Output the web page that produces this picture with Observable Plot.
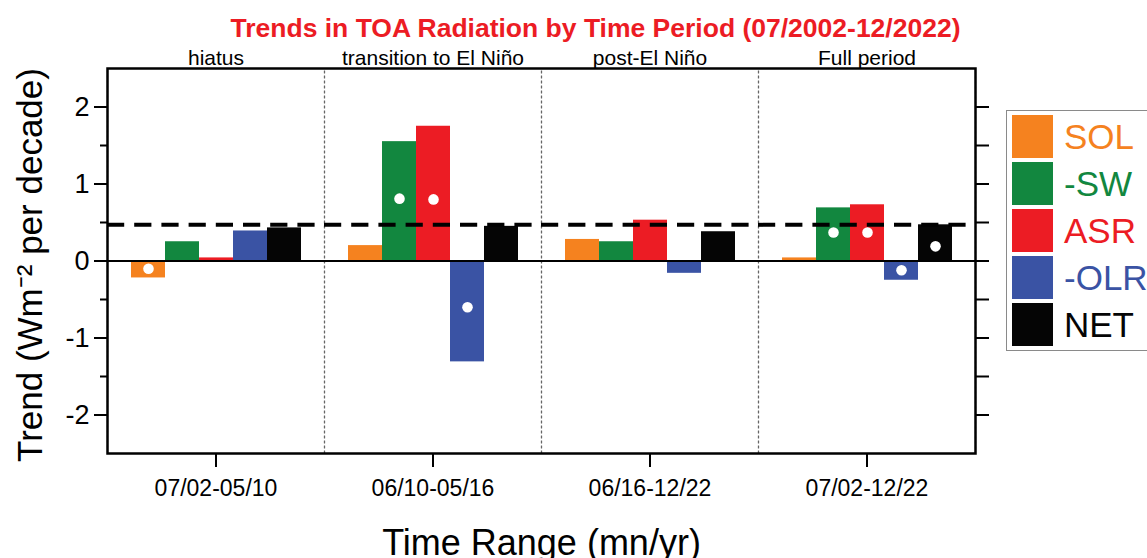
<!DOCTYPE html>
<html>
<head>
<meta charset="utf-8">
<script src="https://cdn.jsdelivr.net/npm/d3@7"></script>
<script src="https://cdn.jsdelivr.net/npm/@observablehq/plot@0.6"></script>
<style>
  html, body { margin: 0; padding: 0; overflow: hidden; background: #fff; }
  #wrap { position: relative; width: 1147px; height: 558px; overflow: hidden; }
  #legend { position: absolute; left: 1006px; top: 110px; width: 170px; border: 1.5px solid #8a8a8a;
            padding: 2px 0 2px 5px; font-family: "Liberation Sans", Arial, sans-serif; background: #fff; }
  .row { display: flex; align-items: center; height: 47px; }
  .sw { width: 41px; height: 43px; margin-right: 11px; }
  .lab { font-size: 35px; line-height: 1; }
</style>
</head>
<body>
<div id="wrap"></div>
<script>
// ---- data ----
const periods = ["07/02-05/10", "06/10-05/16", "06/16-12/22", "07/02-12/22"];
const periodNames = ["hiatus", "transition to El Niño", "post-El Niño", "Full period"];
const series = ["SOL", "-SW", "ASR", "-OLR", "NET"];
const colors = ["#f5821f", "#12873f", "#ec1c24", "#3a53a4", "#050505"];

const sol = [-0.22, 0.20, 0.28, 0.04];
const sw  = [0.25, 1.55, 0.25, 0.69];
const asr = [0.04, 1.75, 0.53, 0.73];
const olr = [0.39, -1.31, -0.16, -0.25];
const net = [0.43, 0.45, 0.38, 0.47];

// white markers drawn on some bars
const markerPeriod = ["07/02-05/10", "06/10-05/16", "06/10-05/16", "06/10-05/16", "07/02-12/22", "07/02-12/22", "07/02-12/22", "07/02-12/22"];
const markerSeries = ["SOL", "-SW", "ASR", "-OLR", "-SW", "ASR", "-OLR", "NET"];
const markerValue  = [-0.10, 0.81, 0.80, -0.60, 0.37, 0.37, -0.12, 0.19];

const fullPeriodNet = 0.47;   // dashed reference line

const yMajorTicks = [-2, -1, 0, 1, 2];
const yMinorTicks = [-1.5, -0.5, 0.5, 1.5];
const yRightTicks = [-2, -1.5, -1, -0.5, 0, 0.5, 1, 1.5, 2];

const titleText = "Trends in TOA Radiation by Time Period (07/2002-12/2022)";
const yLabel = "Trend (Wm\u207B\u00B2 per decade)";
const xLabel = "Time Range (mn/yr)";

// ---- tables built from the arrays ----
const values = [sol, sw, asr, olr, net];
const data = series.flatMap((s, i) => periods.map((p, j) => ({series: s, period: p, value: values[i][j]})));
const markers = markerValue.map((v, i) => ({period: markerPeriod[i], series: markerSeries[i], value: v}));

const font = "'Liberation Sans', Arial, sans-serif";

const chart = Plot.plot({
  width: 1147,
  height: 558,
  marginLeft: 105,
  marginRight: 171,
  marginTop: 68,
  marginBottom: 105,
  style: {fontFamily: font, background: "transparent", color: "#000"},
  fx: {domain: periods, padding: 0},
  x: {domain: series, paddingInner: 0, paddingOuter: 0.607, axis: null},
  y: {domain: [-2.5, 2.5]},
  color: {domain: series, range: colors},
  marks: [
    Plot.frame({stroke: "#666", strokeDasharray: "2,3", strokeWidth: 1.2}),
    Plot.barY(data, {fx: "period", x: "series", y: "value", fill: "series"}),
    Plot.dot(markers, {fx: "period", x: "series", y: "value", r: 5.3, fill: "white", stroke: "none"}),
    Plot.ruleY([0], {stroke: "#000", strokeWidth: 2}),
    Plot.ruleY([fullPeriodNet], {stroke: "#000", strokeWidth: 4, strokeDasharray: "17.2,10"}),
    Plot.frame({facet: "super", stroke: "#000", strokeWidth: 2.5}),
    Plot.axisY({anchor: "left", ticks: yMajorTicks, tickFormat: d => String(d), tickSize: 13, tickPadding: 5, fontSize: 27, strokeWidth: 2, label: null}),
    Plot.axisY({anchor: "left", ticks: yMinorTicks, tickSize: 7, text: null, strokeWidth: 2, label: null}),
    Plot.axisY({anchor: "right", ticks: yRightTicks, tickSize: 13, text: null, strokeWidth: 2, label: null}),
    Plot.axisFx({anchor: "bottom", tickSize: 14, tickPadding: 12, fontSize: 23, strokeWidth: 2, label: null}),
    Plot.axisFx({anchor: "top", tickSize: 0, tickPadding: 4, fontSize: 21, label: null,
                 tickFormat: p => periodNames[periods.indexOf(p)]}),
    Plot.text([titleText], {facet: "super", frameAnchor: "top", lineAnchor: "middle", textAnchor: "middle", dy: -40, dx: 54, fill: "#ec1c24", fontWeight: "bold", fontSize: 26.5}),
    Plot.text([yLabel], {facet: "super", frameAnchor: "left", lineAnchor: "middle", textAnchor: "middle", dx: -77, dy: 4, rotate: -90, fontSize: 35}),
    Plot.text([xLabel], {facet: "super", frameAnchor: "bottom", lineAnchor: "middle", textAnchor: "middle", dy: 90, fontSize: 36})
  ]
});
const wrap = document.getElementById("wrap");
wrap.appendChild(chart);

// legend (HTML) built from series / colors
const legend = document.createElement("div");
legend.id = "legend";
series.forEach((s, i) => {
  const row = document.createElement("div");
  row.className = "row";
  const sw = document.createElement("div");
  sw.className = "sw";
  sw.style.background = colors[i];
  const lab = document.createElement("span");
  lab.className = "lab";
  lab.style.color = colors[i];
  lab.textContent = s;
  row.appendChild(sw);
  row.appendChild(lab);
  legend.appendChild(row);
});
wrap.appendChild(legend);
</script>
</body>
</html>
